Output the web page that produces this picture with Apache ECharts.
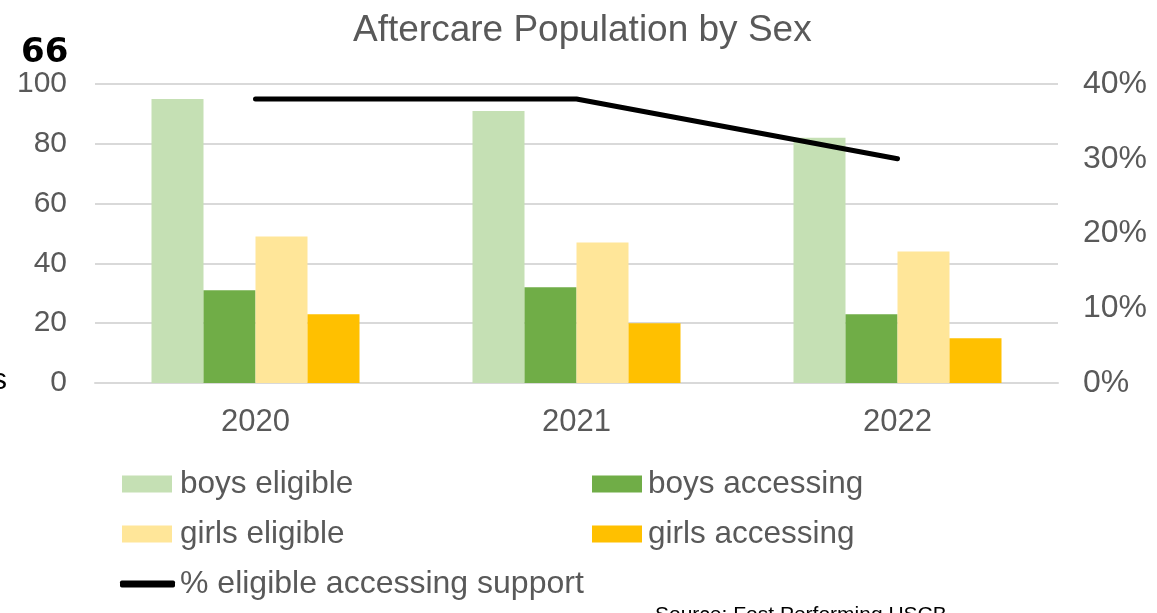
<!DOCTYPE html>
<html>
<head>
<meta charset="utf-8">
<script src="https://cdn.jsdelivr.net/npm/echarts@6/dist/echarts.min.js"></script>
<style>
	html, body { margin: 0; padding: 0; background: #fff; }
	#chart { width: 1157px; height: 613px; }
</style>
</head>
<body>
<div id="chart"></div>
<script>
var years = ["2020", "2021", "2022"];
var boysEligible = [95, 91, 82];
var boysAccessing = [31, 32, 23];
var girlsEligible = [49, 47, 44];
var girlsAccessing = [23, 20, 15];
var pctAccessing = [38, 38, 30];
var leftTicks = [0, 20, 40, 60, 80, 100];
var rightTicks = [0, 10, 20, 30, 40];

var font = "Liberation Sans, Arial, sans-serif";
var grey = "#595959";

var chart = echarts.init(document.getElementById("chart"));

var option = {
	animation: false,
	textStyle: { fontFamily: font },
	title: {
		text: "Aftercare Population by Sex",
		left: 353,
		top: 12,
		padding: 0,
		textStyle: { fontFamily: font, fontSize: 37, fontWeight: "normal", color: grey }
	},
	grid: { left: 95, right: 99, top: 84, bottom: 230, containLabel: false },
	legend: [{
		data: ["boys eligible", "girls eligible"],
		orient: "vertical",
		left: 122,
		top: 468,
		padding: 0,
		itemWidth: 50,
		itemHeight: 17,
		itemGap: 18,
		icon: "rect",
		textStyle: { fontFamily: font, fontSize: 31.5, lineHeight: 32, color: grey, padding: [0, 0, 0, 3] }
	}, {
		data: ["boys accessing", "girls accessing"],
		orient: "vertical",
		left: 592,
		top: 468,
		padding: 0,
		itemWidth: 50,
		itemHeight: 17,
		itemGap: 18,
		icon: "rect",
		textStyle: { fontFamily: font, fontSize: 31.5, lineHeight: 32, color: grey, padding: [0, 0, 0, 1] }
	}, {
		data: ["% eligible accessing support"],
		left: 120,
		top: 568,
		padding: 0,
		itemWidth: 55,
		itemHeight: 7,
		icon: "roundRect",
		textStyle: { fontFamily: font, fontSize: 32, lineHeight: 32, color: grey }
	}],
	xAxis: {
		type: "category",
		data: years,
		axisLine: { lineStyle: { color: "#D9D9D9", width: 2 } },
		axisTick: { show: false },
		axisLabel: { fontFamily: font, fontSize: 31, color: grey, margin: 24 }
	},
	yAxis: [{
		type: "value",
		min: leftTicks[0],
		max: leftTicks[leftTicks.length - 1],
		interval: 20,
		axisLine: { show: false },
		axisTick: { show: false },
		splitLine: { lineStyle: { color: "#D9D9D9", width: 2 } },
		axisLabel: { fontFamily: font, fontSize: 30, color: grey, margin: 28 }
	}, {
		type: "value",
		min: rightTicks[0],
		max: rightTicks[rightTicks.length - 1],
		interval: 10,
		position: "right",
		axisLine: { show: false },
		axisTick: { show: false },
		splitLine: { show: false },
		axisLabel: {
			fontFamily: font, fontSize: 32, color: grey, margin: 25,
			formatter: function(v) { return v + "%"; }
		}
	}],
	series: [{
		name: "boys eligible",
		type: "bar",
		data: boysEligible,
		barWidth: 52,
		barGap: "0%",
		itemStyle: { color: "#C5E0B4" }
	}, {
		name: "boys accessing",
		type: "bar",
		data: boysAccessing,
		barWidth: 52,
		barGap: "0%",
		itemStyle: { color: "#70AD47" }
	}, {
		name: "girls eligible",
		type: "bar",
		data: girlsEligible,
		barWidth: 52,
		barGap: "0%",
		itemStyle: { color: "#FFE699" }
	}, {
		name: "girls accessing",
		type: "bar",
		data: girlsAccessing,
		barWidth: 52,
		barGap: "0%",
		itemStyle: { color: "#FFC000" }
	}, {
		name: "% eligible accessing support",
		type: "line",
		yAxisIndex: 1,
		data: pctAccessing,
		showSymbol: false,
		symbol: "none",
		itemStyle: { color: "#000" },
		lineStyle: { color: "#000", width: 5, cap: "round", join: "round" },
		z: 5
	}],
	graphic: [{
		type: "text",
		left: 21,
		top: 36,
		style: { text: "66", fontFamily: "DejaVu Sans", fontSize: 34, fontWeight: "bold", fill: "#000" }
	}, {
		type: "text",
		left: -8,
		top: 366,
		style: { text: "s", fontFamily: font, fontSize: 30, fill: "#000" }
	}, {
		type: "text",
		left: 655,
		top: 605,
		style: { text: "Source: Fost Performing USCB", fontFamily: font, fontSize: 21, fill: "#000" }
	}]
};

chart.setOption(option);
</script>
</body>
</html>
